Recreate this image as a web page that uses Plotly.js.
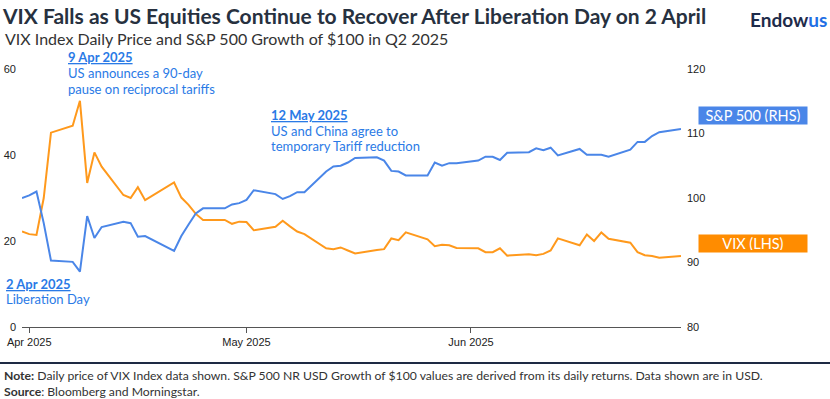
<!DOCTYPE html>
<html>
<head>
<meta charset="utf-8">
<script src="https://cdn.plot.ly/plotly-3.0.1.min.js"></script>
<style>html,body{margin:0;padding:0;background:#fff;}#chart{width:830px;height:399px;}</style>
</head>
<body>
<div id="chart"></div>
<script>
// ---- Data ----
var dates = [
  '2025-03-31','2025-04-01','2025-04-02','2025-04-03','2025-04-04',
  '2025-04-07','2025-04-08','2025-04-09','2025-04-10','2025-04-11',
  '2025-04-14','2025-04-15','2025-04-16','2025-04-17',
  '2025-04-21','2025-04-22','2025-04-23','2025-04-24','2025-04-25',
  '2025-04-28','2025-04-29','2025-04-30','2025-05-01','2025-05-02',
  '2025-05-05','2025-05-06','2025-05-07','2025-05-08','2025-05-09',
  '2025-05-12','2025-05-13','2025-05-14','2025-05-15','2025-05-16',
  '2025-05-19','2025-05-20','2025-05-21','2025-05-22','2025-05-23',
  '2025-05-26','2025-05-27','2025-05-28','2025-05-29','2025-05-30',
  '2025-06-02','2025-06-03','2025-06-04','2025-06-05','2025-06-06',
  '2025-06-09','2025-06-10','2025-06-11','2025-06-12','2025-06-13',
  '2025-06-16','2025-06-17','2025-06-18','2025-06-19','2025-06-20',
  '2025-06-23','2025-06-24','2025-06-25','2025-06-26','2025-06-27',
  '2025-06-30'
];
var vix = [
  22.2, 21.6, 21.4, 30.0, 45.2,
  46.8, 52.6, 33.5, 40.6, 37.3,
  30.7, 30.0, 32.5, 29.5,
  33.6, 30.1, 28.4, 26.3, 24.9,
  24.9, 24.0, 24.5, 24.4, 22.5,
  23.3, 24.7, 23.4, 22.2, 21.6,
  18.3, 18.1, 18.5, 17.8, 17.1,
  17.9, 18.1, 20.6, 20.2, 22.0,
  20.4, 18.8, 19.1, 19.0, 18.4,
  18.3, 17.4, 17.4, 18.3, 16.6,
  16.9, 16.7, 17.0, 17.8, 20.6,
  19.0, 21.5, 20.0, 22.0, 20.5,
  19.6, 17.4, 16.7, 16.5, 16.1,
  16.5
];
var sp500 = [
  100.0, 100.4, 101.0, 96.1, 90.3,
  90.1, 88.6, 97.2, 93.8, 95.5,
  96.3, 96.1, 94.0, 94.1,
  91.8, 94.1, 95.9, 97.6, 98.4,
  98.4, 99.0, 99.2, 99.7, 101.2,
  100.6, 99.85, 100.3, 100.9, 100.9,
  104.1, 104.9, 105.0, 105.5, 106.2,
  106.3, 105.8, 104.2, 104.1, 103.5,
  103.5, 105.5, 105.0, 105.4, 105.4,
  105.8, 106.4, 106.4, 105.9, 107.0,
  107.1, 107.7, 107.4, 107.8, 106.6,
  107.6, 106.7, 106.7, 106.7, 106.4,
  107.5, 108.7, 108.7, 109.6, 110.2,
  110.7
];
var xTickVals = ['2025-04-01', '2025-05-01', '2025-06-01'];
var xTickText = ['Apr 2025', 'May 2025', 'Jun 2025'];
var vixTicks = [0, 20, 40, 60];
var spTicks = [80, 90, 100, 110, 120];
var seriesNames = ['VIX (LHS)', 'S&P 500 (RHS)'];

// ---- Layout helpers (pixel -> paper) ----
var L = 22, R = 149, T = 69, B = 72, W = 830, H = 399;
var PW = W - L - R, PH = H - T - B;
function px(x) { return (x - L) / PW; }
function py(y) { return (H - B - y) / PH; }

var BLUE = 'rgb(74,134,232)';
var ORANGE = 'rgb(255,153,28)';
var ANN = 'rgb(42,122,230)';
var NAVY = '#27313f';

function txt(text, x, y, size, color, extra) {
  var a = {
    text: text, xref: 'paper', yref: 'paper', x: px(x), y: py(y),
    xanchor: 'left', yanchor: 'middle', showarrow: false,
    font: { family: 'Lato', size: size, color: color }
  };
  if (extra) for (var k in extra) a[k] = extra[k];
  return a;
}

var traces = [
  {
    x: dates, y: vix, name: seriesNames[0], type: 'scatter', mode: 'lines',
    line: { color: ORANGE, width: 2 }, yaxis: 'y', hoverinfo: 'skip'
  },
  {
    x: dates, y: sp500, name: seriesNames[1], type: 'scatter', mode: 'lines',
    line: { color: BLUE, width: 2 }, yaxis: 'y2', hoverinfo: 'skip'
  }
];

var annotations = [
  txt('VIX Index Daily Price and S&P 500 Growth of $100 in Q2 2025', 3, 38, 16, '#333333'),
  txt('<b>Endow</b><b><span style="color:#1f6fe5">us</span></b>', 748, 19, 19, '#1e2b4a'),

  txt('<b><u>9 Apr 2025</u></b>', 66, 57, 13, ANN),
  txt('US announces a 90-day', 66, 73, 13, ANN),
  txt('pause on reciprocal tariffs', 66, 88.5, 13, ANN),

  txt('<b><u>12 May 2025</u></b>', 269, 115, 13, ANN),
  txt('US and China agree to', 269, 130.5, 13, ANN),
  txt('temporary Tariff reduction', 269, 145.5, 13, ANN),

  txt('<b><u>2 Apr 2025</u></b>', 4, 283.5, 13, ANN),
  txt('Liberation Day', 4, 298.5, 13, ANN),

  txt(seriesNames[1], 752.5, 115.7, 14.5, '#ffffff',
      { xanchor: 'center', bgcolor: BLUE, width: 104, height: 13, borderpad: 2 }),
  txt(seriesNames[0], 752.5, 243, 14.5, '#ffffff',
      { xanchor: 'center', bgcolor: 'rgb(255,140,0)', width: 104, height: 13, borderpad: 2 }),

  txt('<b>Note:</b> Daily price of VIX Index data shown. S&P 500 NR USD Growth of $100 values are derived from its daily returns. Data shown are in USD.' +
      '<br><b>Source</b>: Bloomberg and Morningstar.', 3, 383, 12.2, '#333333', { borderpad: 0, align: 'left' })
];

var layout = {
  width: W, height: H,
  margin: { l: L, r: R, t: T, b: B, pad: 0 },
  paper_bgcolor: '#ffffff', plot_bgcolor: '#ffffff',
  showlegend: false,
  title: {
    text: '<b>VIX Falls as US Equities Continue to Recover After Liberation Day on 2 April</b>',
    xref: 'container', yref: 'container',
    x: 3 / W, xanchor: 'left', y: 1 - 17 / H, yanchor: 'middle',
    font: { family: 'Lato', size: 21, color: NAVY }
  },
  xaxis: {
    type: 'date', range: ['2025-03-31', '2025-06-30'],
    tickmode: 'array', tickvals: xTickVals, ticktext: xTickText,
    showgrid: false, zeroline: false,
    showline: true, linecolor: '#555555', linewidth: 1,
    ticks: 'outside', ticklen: 5, tickcolor: '#555555', tickwidth: 1,
    tickfont: { family: 'Liberation Sans, Arial, sans-serif', size: 11, color: '#222222' }
  },
  yaxis: {
    range: [0, 60], tickmode: 'array', tickvals: vixTicks,
    showgrid: false, zeroline: false, showline: false, ticks: '',
    ticklabelstandoff: 5,
    tickfont: { family: 'Liberation Sans, Arial, sans-serif', size: 11, color: '#222222' }
  },
  yaxis2: {
    range: [80, 120], tickmode: 'array', tickvals: spTicks,
    overlaying: 'y', side: 'right',
    showgrid: false, zeroline: false, showline: false, ticks: '',
    ticklabelstandoff: 5,
    tickfont: { family: 'Liberation Sans, Arial, sans-serif', size: 11, color: '#222222' }
  },
  shapes: [
    { type: 'line', xref: 'paper', yref: 'paper', x0: px(0), x1: px(830), y0: py(363), y1: py(363),
      line: { color: '#1e2a44', width: 2 } }
  ],
  annotations: annotations
};

Plotly.newPlot('chart', traces, layout, { displayModeBar: false, staticPlot: true });
</script>
</body>
</html>
